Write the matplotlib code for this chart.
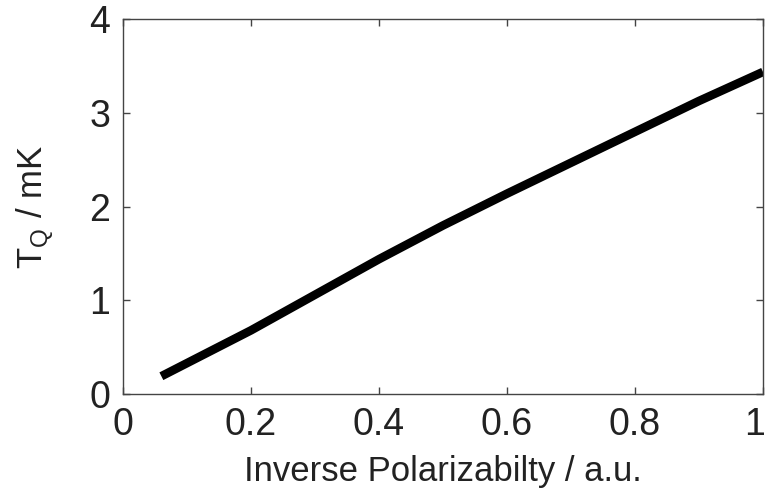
import matplotlib
matplotlib.use("Agg")
import matplotlib.pyplot as plt
import matplotlib.transforms as mtransforms

FONT = "Liberation Sans"
plt.rcParams["mathtext.fontset"] = "custom"
plt.rcParams["mathtext.rm"] = FONT

# quench temperature vs inverse polarizability
inv_pol = [0.06, 0.1, 0.2, 0.3, 0.4, 0.5, 0.6, 0.7, 0.8, 0.9, 1.0]
t_q     = [0.19, 0.33, 0.68, 1.06, 1.44, 1.80, 2.14, 2.47, 2.80, 3.13, 3.44]

xticks = [0, 0.2, 0.4, 0.6, 0.8, 1]
xtick_labels = ["0", "0.2", "0.4", "0.6", "0.8", "1"]
yticks = [0, 1, 2, 3, 4]

fig = plt.figure(figsize=(7.71, 4.96), dpi=100, facecolor="white")
ax = fig.add_axes([0.1595, 0.2056, 0.8301, 0.7551])

ax.plot(inv_pol, t_q, color="black", linewidth=6.2, solid_capstyle="butt")

ax.set_xlim(0, 1)
ax.set_ylim(0, 4)
ax.set_xticks(xticks)
ax.set_xticklabels(xtick_labels)
ax.set_yticks(yticks)

for sp in ax.spines.values():
    sp.set_edgecolor("#444444")
    sp.set_linewidth(1.0)
ax.tick_params(direction="in", length=5, width=1, color="#444444",
               top=True, right=True, labelsize=27, pad=9)
for lbl in ax.get_xticklabels() + ax.get_yticklabels():
    lbl.set_fontfamily(FONT)
    lbl.set_color("#222222")

# keep the last x label inside the canvas
last = ax.get_xticklabels()[-1]
last.set_transform(last.get_transform() +
                   mtransforms.ScaledTranslation(-6 / 72, 0, fig.dpi_scale_trans))

ax.set_xlabel("Inverse Polarizabilty / a.u.", fontfamily=FONT, fontsize=25,
              color="#222222", labelpad=9)
ax.set_ylabel(r"T$_\mathregular{Q}$ / mK", fontfamily=FONT, fontsize=25,
              color="#222222", labelpad=24)

fig.savefig("out.png", dpi=100, facecolor="white")
